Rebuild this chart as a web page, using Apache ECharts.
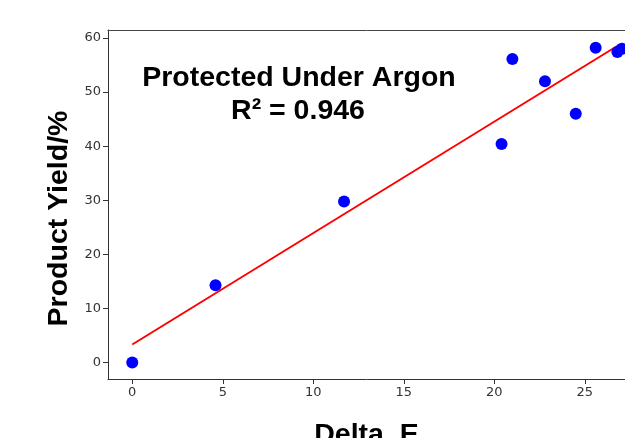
<!DOCTYPE html>
<html>
<head>
<meta charset="utf-8">
<script src="https://cdn.jsdelivr.net/npm/echarts@6/dist/echarts.min.js"></script>
<style>html,body{margin:0;padding:0;background:#fff}#c{width:625px;height:438px}</style>
</head>
<body>
<div id="c"></div>
<script>
// Measured data (Delta_E vs Product Yield)
var deltaE = [0, 4.6, 11.7, 20.4, 21.0, 22.8, 24.5, 25.6, 26.8, 27.05];
var yieldPct = [0, 14.3, 29.8, 40.4, 56.1, 52.0, 46.0, 58.2, 57.4, 58.0];
// Fitted regression line end points
var fitX = [0, 26.9];
var fitY = [3.35, 58.75];
var xTicks = [0, 5, 10, 15, 20, 25];
var yTicks = [0, 10, 20, 30, 40, 50, 60];

var chart = echarts.init(document.getElementById('c'), null, {renderer: 'canvas'});
var tickFont = {fontFamily: 'DejaVu Sans', fontSize: 13, color: '#333'};
var titleFont = {fontFamily: 'Liberation Sans', fontWeight: 'bold', fontSize: 28.5, color: '#000'};

chart.setOption({
  animation: false,
  grid: {left: 108, top: 30, right: 0, bottom: 59, containLabel: false, outerBoundsMode: 'none'},
  xAxis: [{
    type: 'value', min: -1.34, max: 27.22,
    name: 'Delta_E', nameLocation: 'middle', nameGap: 42,
    nameTextStyle: titleFont,
    splitLine: {show: false},
    axisLine: {show: true, onZero: false, lineStyle: {color: '#333', width: 1}},
    axisTick: {show: true, length: 5, customValues: xTicks, lineStyle: {color: '#333'}},
    axisLabel: Object.assign({customValues: xTicks, margin: 7}, tickFont)
  }, {
    type: 'value', position: 'top', min: -1.34, max: 27.22,
    splitLine: {show: false},
    axisLine: {show: true, onZero: false, lineStyle: {color: '#444', width: 1}},
    axisTick: {show: false}, axisLabel: {show: false}
  }],
  yAxis: {
    type: 'value', min: -3.03, max: 61.48,
    name: 'Product Yield/%', nameLocation: 'middle', nameGap: 16, nameRotate: 90,
    nameTextStyle: Object.assign({padding: [0, 28, 0, 0]}, titleFont),
    splitLine: {show: false},
    axisLine: {show: true, onZero: false, lineStyle: {color: '#333', width: 1}},
    axisTick: {show: true, length: 5, customValues: yTicks, lineStyle: {color: '#333'}},
    axisLabel: Object.assign({customValues: yTicks, margin: 7}, tickFont)
  },
  series: [{
    type: 'line',
    data: fitX.map(function (x, i) { return [x, fitY[i]]; }),
    symbol: 'none',
    lineStyle: {color: '#ff0000', width: 2},
    z: 2
  }, {
    type: 'scatter',
    data: deltaE.map(function (x, i) { return [x, yieldPct[i]]; }),
    symbolSize: 12,
    itemStyle: {color: '#0000ff', opacity: 1},
    z: 3
  }],
  graphic: [{
    type: 'text', x: 299, y: 78,
    style: {text: 'Protected Under Argon', textAlign: 'center', textVerticalAlign: 'middle', font: 'bold 28.5px "Liberation Sans"', fill: '#000'}
  }, {
    type: 'text', x: 298, y: 111,
    style: {text: 'R² = 0.946', textAlign: 'center', textVerticalAlign: 'middle', font: 'bold 28.5px "Liberation Sans"', fill: '#000'}
  }]
});
</script>
</body>
</html>
